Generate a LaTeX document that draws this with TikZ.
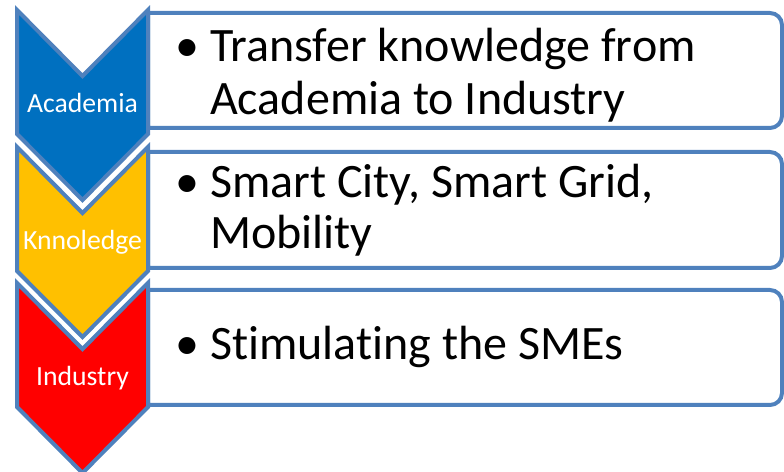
\documentclass[tikz,border=0pt]{standalone}
\usepackage{fontspec}
\setmainfont[Ligatures=NoCommon]{Carlito}
\definecolor{edge}{HTML}{4F81BD}
\definecolor{cblue}{HTML}{0070C0}
\definecolor{cyellow}{HTML}{FFC000}
\definecolor{cred}{HTML}{FF0000}
\tikzset{
  boxshape/.style={draw=edge,line width=4pt,fill=white},
  chev/.style={draw=edge,line width=4pt,line join=miter},
  chevlabel/.style={text=white,font=\fontsize{27.7}{33}\selectfont,anchor=base,inner sep=0pt},
  bul/.style={font=\fontsize{48}{58}\selectfont,anchor=base,inner sep=0pt},
  btext/.style={font=\fontsize{48}{58}\selectfont,anchor=base west,inner sep=0pt},
}
\begin{document}
\begin{tikzpicture}[x=1pt,y=1pt]
\useasboundingbox (0,0) rectangle (784,471);
% boxes
\draw[boxshape] (148,458) -- (770,458) arc[start angle=90,end angle=0,radius=12pt] -- (782,355) arc[start angle=0,end angle=-90,radius=12pt] -- (148,343) -- cycle;
\draw[boxshape] (148,319) -- (770,319) arc[start angle=90,end angle=0,radius=12pt] -- (782,215) arc[start angle=0,end angle=-90,radius=12pt] -- (148,203) -- cycle;
\draw[boxshape] (148,181) -- (770,181) arc[start angle=90,end angle=0,radius=12pt] -- (782,78) arc[start angle=0,end angle=-90,radius=12pt] -- (148,66) -- cycle;
% chevrons
\draw[chev,fill=cblue] (17,461) -- (82.5,395) -- (148,461) -- (148,337) -- (82.5,271) -- (17,337) -- cycle;
\draw[chev,fill=cyellow] (17,324) -- (82.5,258) -- (148,324) -- (148,200) -- (82.5,134) -- (17,200) -- cycle;
\draw[chev,fill=cred] (17,188) -- (82.5,122) -- (148,188) -- (148,64) -- (82.5,-2) -- (17,64) -- cycle;
% chevron labels
\node[chevlabel] (l1) at (82.5,358) {Academia};
\node[chevlabel] (l2) at (82.5,221) {Knnoledge};
\node[chevlabel] (l3) at (82.5,85) {Industry};
% bullet texts
\node[bul] (b1) at (187,409) {•};
\node[btext] (t1a) at (210,409) {Transfer knowledge from};
\node[btext] (t1b) at (210,356) {Academia to Industry};
\node[bul] (b2) at (187,273) {•};
\node[btext] (t2a) at (210,273) {Smart City, Smart Grid,};
\node[btext] (t2b) at (210,222) {Mobility};
\node[bul] (b3) at (187,111) {•};
\node[btext] (t3a) at (210,111) {Stimulating the SMEs};
\end{tikzpicture}
\end{document}
